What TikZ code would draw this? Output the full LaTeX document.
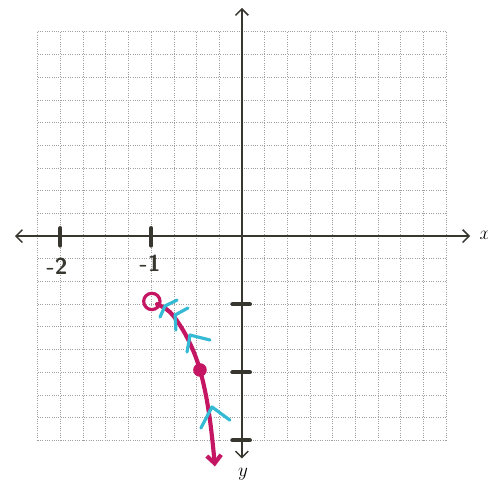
\documentclass[tikz,border=0pt]{standalone}
\usepackage{xcolor}
\usepackage{tikz}
\usetikzlibrary{arrows.meta}
\definecolor{InkMagenta}{RGB}{196,22,98}
\definecolor{InkCyan}{RGB}{52,186,212}
\definecolor{InkDark}{RGB}{55,55,48}
\definecolor{GridGray}{RGB}{160,160,160}

\begin{document}
\begin{tikzpicture}[x=0.5cm, y=0.5cm,
          gridline/.style={GridGray, densely dotted, line width=0.45pt},
          axis/.style={{Straight Barb[length=4pt]}-{Straight Barb[length=4pt]},
                       InkDark, line width=0.9pt},
          tickmark/.style={InkDark, line width=2.6pt, line cap=round},
          ticklabel/.style={InkDark, font=\sffamily\Large\bfseries},
          trace/.style={InkMagenta, line width=2.6pt, line cap=round,
                        -{Straight Barb[length=5pt, width=9pt]}},
          dirmark/.style={InkCyan, line width=2pt, line cap=round,
                          line join=round},
          hollow/.style={circle, draw=InkMagenta, line width=2pt,
                         minimum size=0.36cm, inner sep=0pt},
          dot/.style={circle, fill=InkMagenta, minimum size=0.3cm,
                      inner sep=0pt}
        ]
        \useasboundingbox (-10.66,-10.79) rectangle (10.84,10.40);

        % Grid
        \draw[gridline, step=0.5cm] (-9,-9) grid (9,9);

        % Axes
        \coordinate (xw) at (-10,0);
        \coordinate (xe) at (10.05,0);
        \coordinate (yn) at (0,10.05);
        \coordinate (ys) at (0,-9.8);
        \draw[axis] (xw) -- (xe);
        \draw[axis] (ys) -- (yn);
        \node[font=\large] (xlab) at (10.7,0.05) {$x$};
        \node[font=\large] (ylab) at (0.05,-10.5) {$y$};

        % Ticks
        \foreach \t in {-8,-4}
          \draw[tickmark] (\t,0.35) -- (\t,-0.42);
        \foreach \t in {-3,-6,-9}
          \draw[tickmark] (-0.42,\t) -- (0.35,\t);
        \node[ticklabel] (lm2) at (-8.15,-1.35) {-2};
        \node[ticklabel] (lm1) at (-4.05,-1.2) {-1};

        % Curve
        \node[hollow] (start) at (-3.97,-2.88) {};
        \draw[trace] plot[smooth, tension=0.6] coordinates {
              (-3.74,-3.0) (-3.17,-3.35) (-2.60,-4.14) (-2.16,-5.02)
              (-1.85,-5.90) (-1.59,-7.0) (-1.41,-8.11) (-1.28,-9.21)
              (-1.19,-10.15)};
        \node[dot] (mid) at (-1.85,-5.9) {};

        % Direction marks
        \draw[dirmark] (-2.86,-2.82) -- (-3.39,-3.08) -- (-3.61,-3.57);
        \draw[dirmark] (-2.38,-3.17) -- (-2.95,-3.48) -- (-2.91,-4.14);
        \draw[dirmark] (-1.41,-4.58) -- (-2.29,-4.36) -- (-2.42,-5.11);
        \draw[dirmark] (-0.53,-8.11) -- (-1.32,-7.53) -- (-1.81,-8.46);
      \end{tikzpicture}
\end{document}
